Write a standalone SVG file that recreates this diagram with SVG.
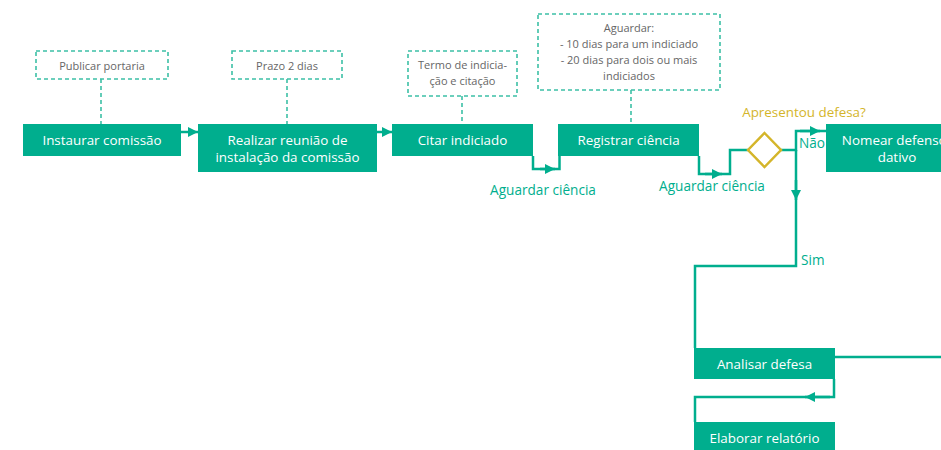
<svg xmlns="http://www.w3.org/2000/svg" width="941" height="450" viewBox="0 0 941 450">
<defs>
<style>
.box{fill:#00AE8E}
.bt{fill:#ffffff;font-family:"Open Sans","Liberation Sans",sans-serif;font-size:13.4px;text-anchor:middle}
.note{fill:#ffffff;stroke:#3CC0A6;stroke-width:1.6;stroke-dasharray:4 3}
.nl{stroke:#3CC0A6;stroke-width:1.6;stroke-dasharray:4 3;fill:none}
.nt{fill:#666666;font-family:"Open Sans","Liberation Sans",sans-serif;font-size:11px;text-anchor:middle}
.c{stroke:#00AE8E;stroke-width:2.5;fill:none}
.lbl{fill:#00AE8E;font-family:"Open Sans","Liberation Sans",sans-serif;font-size:13.6px}
.gold{fill:#D4B52A;font-family:"Open Sans","Liberation Sans",sans-serif;font-size:13.4px}
</style>
<marker id="ah" viewBox="0 0 10 10" refX="10" refY="5" markerWidth="12" markerHeight="10" markerUnits="userSpaceOnUse" orient="auto">
<path d="M0,0 L10,5 L0,10 z" fill="#00AE8E"/>
</marker>
</defs>
<rect width="941" height="450" fill="#ffffff"/>

<g id="notes">
<g id="n1"><line class="nl" x1="101" y1="79" x2="101" y2="124"/><rect class="note" x="36" y="51" width="132" height="28"/><text class="nt" x="102" y="69.5">Publicar portaria</text></g>
<g id="n2"><line class="nl" x1="287" y1="79" x2="287" y2="124"/><rect class="note" x="232" y="51" width="110" height="28"/><text class="nt" x="287" y="69.5">Prazo 2 dias</text></g>
<g id="n3"><line class="nl" x1="462" y1="96" x2="462" y2="124"/><rect class="note" x="408" y="51" width="109" height="45"/><text class="nt" x="462.5" y="68.5">Termo de indicia-</text><text class="nt" x="462.5" y="84.5">ção e citação</text></g>
<g id="n4"><line class="nl" x1="631" y1="90" x2="631" y2="124"/><rect class="note" x="538" y="14" width="182" height="76"/><text class="nt" x="629" y="31.5">Aguardar:</text><text class="nt" x="629" y="47.5">- 10 dias para um indiciado</text><text class="nt" x="629" y="64">- 20 dias para dois ou mais</text><text class="nt" x="629" y="79.5">indiciados</text></g>
</g>

<g id="connectors">
<line class="c" x1="181" y1="132" x2="198" y2="132" marker-end="url(#ah)"/>
<line class="c" x1="376" y1="132" x2="392" y2="132" marker-end="url(#ah)"/>
<polyline class="c" points="533,156 533,169 558,169"/>
<line class="c" x1="540" y1="169" x2="555" y2="169" marker-end="url(#ah)"/>
<polyline class="c" points="558,169 559.5,169 559.5,156"/>
<polyline class="c" points="699,156 699,174 730,174 730,150 748,150"/>
<line class="c" x1="705" y1="174" x2="722" y2="174" marker-end="url(#ah)"/>
<polyline class="c" points="781,150 796,150 796,131 826,131"/>
<line class="c" x1="800" y1="131" x2="820" y2="131" marker-end="url(#ah)"/>
<polyline class="c" points="796,150 796,266 695,266 695,348"/>
<line class="c" x1="796" y1="180" x2="796" y2="200" marker-end="url(#ah)"/>
<line class="c" x1="835" y1="357" x2="941" y2="357"/>
<polyline class="c" points="834,379 834,397 695,397 695,422"/>
<line class="c" x1="830" y1="397" x2="805" y2="397" marker-end="url(#ah)"/>
<text class="lbl" x="543" y="194.5" text-anchor="middle">Aguardar ciência</text>
<text class="lbl" x="712" y="190.5" text-anchor="middle">Aguardar ciência</text>
<text class="lbl" x="799" y="147.5">Não</text>
<text class="lbl" x="801" y="264.5">Sim</text>
</g>

<g id="b1"><rect class="box" x="23" y="124" width="158" height="32"/><text class="bt" x="102" y="144.5">Instaurar comissão</text></g>
<g id="b2"><rect class="box" x="198" y="124" width="179" height="48"/><text class="bt" x="287.5" y="144.5">Realizar reunião de</text><text class="bt" x="287.5" y="161.5">instalação da comissão</text></g>
<g id="b3"><rect class="box" x="392" y="124" width="141" height="32"/><text class="bt" x="462.5" y="144.5">Citar indiciado</text></g>
<g id="b4"><rect class="box" x="558" y="124" width="141" height="32"/><text class="bt" x="628.5" y="144.5">Registrar ciência</text></g>
<g id="d1"><polygon points="764.5,133 781,150 764.5,167 748,150" fill="#ffffff" stroke="#D4B52A" stroke-width="2.5"/><text class="gold" x="804" y="116.5" text-anchor="middle">Apresentou defesa?</text></g>
<g id="b5"><rect class="box" x="826" y="124" width="142" height="48"/><text class="bt" x="897" y="144.5">Nomear defensor</text><text class="bt" x="897" y="161.5">dativo</text></g>
<g id="b6"><rect class="box" x="694" y="348" width="141" height="31"/><text class="bt" x="764.5" y="368.5">Analisar defesa</text></g>
<g id="b7"><rect class="box" x="694" y="422" width="141" height="28"/><text class="bt" x="764.5" y="442.5">Elaborar relatório</text></g>
</svg>
